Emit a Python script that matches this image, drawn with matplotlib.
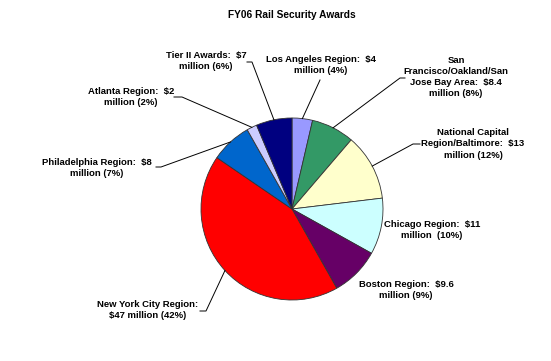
import numpy as np
import matplotlib
matplotlib.use('Agg')
import matplotlib.pyplot as plt

plt.rcParams['font.family'] = ['Liberation Sans', 'DejaVu Sans']

# data (millions of dollars), clockwise from 12 o'clock
regions = ['Los Angeles Region', 'San Francisco/Oakland/San Jose Bay Area',
           'National Capital Region/Baltimore', 'Chicago Region', 'Boston Region',
           'New York City Region', 'Philadelphia Region', 'Atlanta Region',
           'Tier II Awards']
awards = [4, 8.4, 13, 11, 9.6, 47, 8, 2, 7]
labels = ['Los Angeles Region:  $4\nmillion (4%)',
          'San\nFrancisco/Oakland/San\nJose Bay Area:  $8.4\nmillion (8%)',
          'National Capital\nRegion/Baltimore:  $13\nmillion (12%)',
          'Chicago Region:  $11\nmillion  (10%)',
          'Boston Region:  $9.6\nmillion (9%)',
          'New York City Region:\n$47 million (42%)',
          'Philadelphia Region:  $8\nmillion (7%)',
          'Atlanta Region:  $2\nmillion (2%)',
          'Tier II Awards:  $7\nmillion (6%)']
colors = ['#9999FF', '#339966', '#FFFFCC', '#CCFFFF', '#660066',
          '#FF0000', '#0066CC', '#CCCCFF', '#000080']

W, H = 551, 361
fig = plt.figure(figsize=(W / 100, H / 100), dpi=100)
ax = fig.add_axes([0, 0, 1, 1])

cx, cy, R = 292, H - 209, 91
wedges, _ = ax.pie(awards, colors=colors, startangle=90, counterclock=False,
                   center=(cx, cy), radius=R,
                   wedgeprops=dict(edgecolor='#333333', linewidth=0.6))
ax.set_xlim(0, W)
ax.set_ylim(0, H)
ax.set_aspect('equal')
ax.axis('off')

# label placement (pixel coords from top-left): text centre, leader elbow, leader end
text_pos = [(321, 65), (456, 77), (473, 144), (432, 230), (406, 290),
            (148, 310), (97, 168), (131, 97), (206, 61)]
leaders = [[(320, 80)], [(400, 78), (405, 78)], [(413, 144), (420, 144)],
           None, None, [(206, 311), (200, 311)], [(161, 167), (156, 167)],
           [(182, 97), (174, 97)], [(252, 62), (247, 62)]]

for w, lab, tp, ld in zip(wedges, labels, text_pos, leaders):
    ax.text(tp[0], H - tp[1], lab, ha='center', va='center', fontsize=6.8,
            fontweight='bold', linespacing=1.3, color='black')
    if ld:
        mid = np.deg2rad((w.theta1 + w.theta2) / 2)
        xs = [cx + R * np.cos(mid)] + [p[0] for p in ld]
        ys = [cy + R * np.sin(mid)] + [H - p[1] for p in ld]
        ax.plot(xs, ys, color='black', linewidth=0.7)

fig.text(292 / W, 1 - 15 / H, 'FY06 Rail Security Awards', ha='center', va='center',
         fontsize=7.3, fontweight='bold')

fig.savefig('out.png', dpi=100)
